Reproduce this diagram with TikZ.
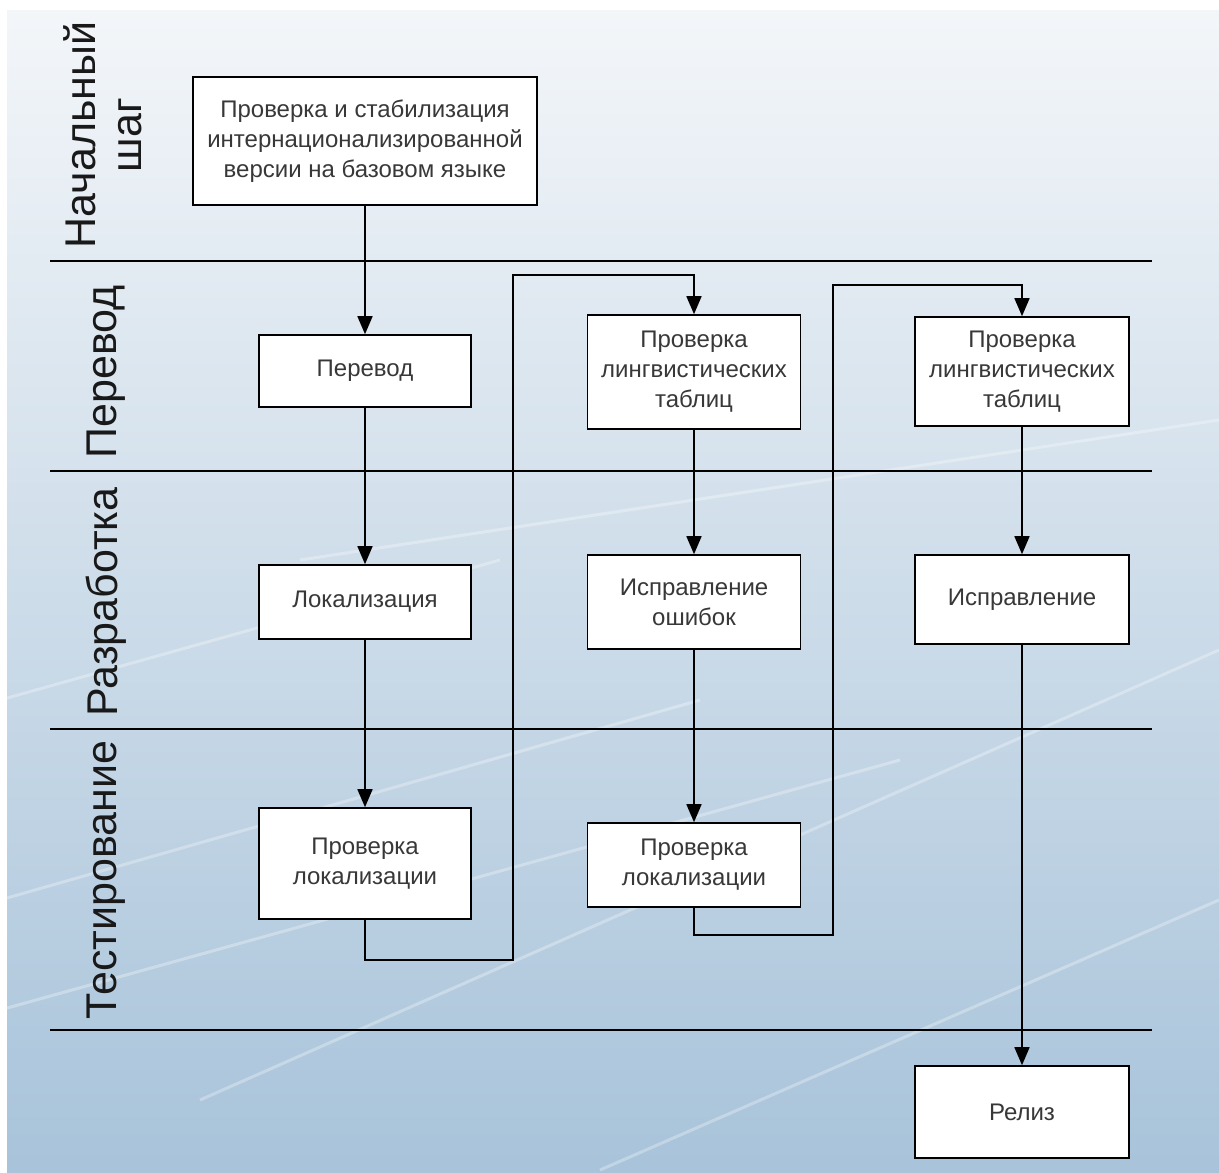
\documentclass[tikz,border=0pt]{standalone}
\usepackage{fontspec}
\setmainfont{Liberation Sans}
\usetikzlibrary{arrows.meta,shadings}
\definecolor{bgTop}{RGB}{243,246,249}
\definecolor{bgMid}{RGB}{222,232,240}
\definecolor{bgBot}{RGB}{168,195,218}
\tikzset{
  box/.style={draw=black, line width=1.6pt, fill=white, inner sep=0pt, align=center,
    font=\fontsize{24}{30}\selectfont, text=black!78},
  lane/.style={font=\fontsize{43}{46}\selectfont, rotate=90, align=center, text=black!90, inner sep=0pt},
  flow/.style={line width=1.6pt, -{Triangle[width=15pt,length=18pt]}},
  sep/.style={line width=1.6pt}
}
\begin{document}
\begin{tikzpicture}[x=1pt,y=-1pt]
\useasboundingbox (0,0) rectangle (1219,1173);
\fill[white] (0,0) rectangle (1219,1173);
\shade[top color=bgTop, middle color=bgMid, bottom color=bgBot]
  (7,10) rectangle (1219,1173);
% faint streaks
\foreach \a/\b/\c/\d in {0/900/700/700, 200/1100/1219/650, 600/1170/1219/900, 0/700/500/560, 300/560/1219/420, 0/1010/900/760}
  \draw[white, opacity=0.3, line width=3pt] (\a,\b) -- (\c,\d);

% lane separators
\draw[sep] (50,261) -- (1152,261);
\draw[sep] (50,471) -- (1152,471);
\draw[sep] (50,729) -- (1152,729);
\draw[sep] (50,1030) -- (1152,1030);

% lane labels
\node[lane] (l0) at (103,135) {Начальный\\шаг};
\node[lane] (l1) at (106,372) {Перевод};
\node[lane] (l2) at (106,602) {Разработка};
\node[lane] (l3) at (106,880) {Тестирование};

% boxes
\node[box, minimum width=344pt, minimum height=128pt] (b0) at (365,141) {Проверка и стабилизация\\интернационализированной\\версии на базовом языке};
\node[box, minimum width=212pt, minimum height=72pt] (per) at (365,371) {Перевод};
\node[box, minimum width=212pt, minimum height=74pt] (lok) at (365,602) {Локализация};
\node[box, minimum width=212pt, minimum height=111pt] (pl1) at (365,863.5) {Проверка\\локализации};
\node[box, minimum width=213pt, minimum height=114pt] (lt1) at (694,372) {Проверка\\лингвистических\\таблиц};
\node[box, minimum width=213pt, minimum height=94pt] (io) at (694,602) {Исправление\\ошибок};
\node[box, minimum width=213pt, minimum height=84pt] (pl2) at (694,865) {Проверка\\локализации};
\node[box, minimum width=214pt, minimum height=109pt] (lt2) at (1022,371.5) {Проверка\\лингвистических\\таблиц};
\node[box, minimum width=214pt, minimum height=89pt] (is) at (1022,599.5) {Исправление};
\node[box, minimum width=214pt, minimum height=92pt] (rel) at (1022,1112) {Релиз};

\coordinate (c1) at (513,960);
\coordinate (c2) at (513,275);
\coordinate (c3) at (833,935);
\coordinate (c4) at (833,285);

% connectors
\draw[flow] (b0) -- (per);
\draw[flow] (per) -- (lok);
\draw[flow] (lok) -- (pl1);
\draw[flow] (pl1.south) |- (c1) -- (c2) -| (lt1.north);
\draw[flow] (lt1) -- (io);
\draw[flow] (io) -- (pl2);
\draw[flow] (pl2.south) |- (c3) -- (c4) -| (lt2.north);
\draw[flow] (lt2) -- (is);
\draw[flow] (is) -- (rel);
\end{tikzpicture}
\end{document}
